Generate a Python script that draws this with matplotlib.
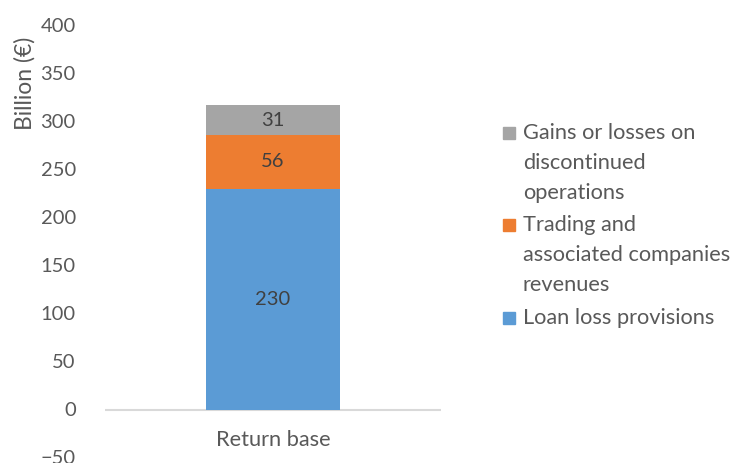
import matplotlib.pyplot as plt
from matplotlib.patches import Rectangle
from matplotlib.transforms import ScaledTranslation

# data
category = ["Return base"]
series_names = ["Loan loss provisions",
                "Trading and\nassociated companies\nrevenues",
                "Gains or losses on\ndiscontinued\noperations"]
series_values = [230, 56, 31]
series_colors = ["#5B9BD5", "#ED7D31", "#A5A5A5"]
y_ticks = [-50, 0, 50, 100, 150, 200, 250, 300, 350, 400]

plt.rcParams['font.family'] = ['Lato', 'DejaVu Sans']
text_col = "#595959"

fig = plt.figure(figsize=(7.4, 4.63), dpi=100)
W, H = 740, 463
ax = fig.add_axes([105 / W, 1 - 457.5 / H, 336 / W, (457.5 - 25.5) / H])

bottom = 0
for val, col in zip(series_values, series_colors):
    ax.bar(category, [val], bottom=bottom, width=0.4, color=col, zorder=2)
    ax.text(0, bottom + val / 2, str(val), ha='center', va='center',
            fontsize=14.5, color="#404040", zorder=3)
    bottom += val

ax.set_xlim(-0.5, 0.5)
ax.set_ylim(-50, 400)
ax.set_yticks(y_ticks)
ax.axhline(0, color="#D9D9D9", lw=1.5, zorder=1)
for s in ax.spines.values():
    s.set_visible(False)
ax.tick_params(axis='y', length=0, pad=21, labelsize=14.5, labelcolor=text_col)
ax.set_xticks([])
ax.text(0, 0, category[0], ha='center', va='center', fontsize=15.7, color=text_col,
        transform=ax.transData + ScaledTranslation(0, -31 / 100, fig.dpi_scale_trans))

fig.text(25 / W, 1 - 83 / H, "Billion (€)", rotation=90, ha='center', va='center',
         fontsize=16.5, color=text_col)

# legend drawn by hand, top entry first
tops = [318, 225, 133]
for name, col, yc in zip(series_names, series_colors, tops):
    fig.patches.append(Rectangle((503 / W, 1 - (yc + 6) / H), 12 / W, 12 / H,
                                 transform=fig.transFigure, color=col, figure=fig))
    fig.text(523 / W, 1 - (yc - 10) / H, name, ha='left', va='top', fontsize=15.7,
             color=text_col, linespacing=1.62)

fig.savefig("out.png", dpi=100)
